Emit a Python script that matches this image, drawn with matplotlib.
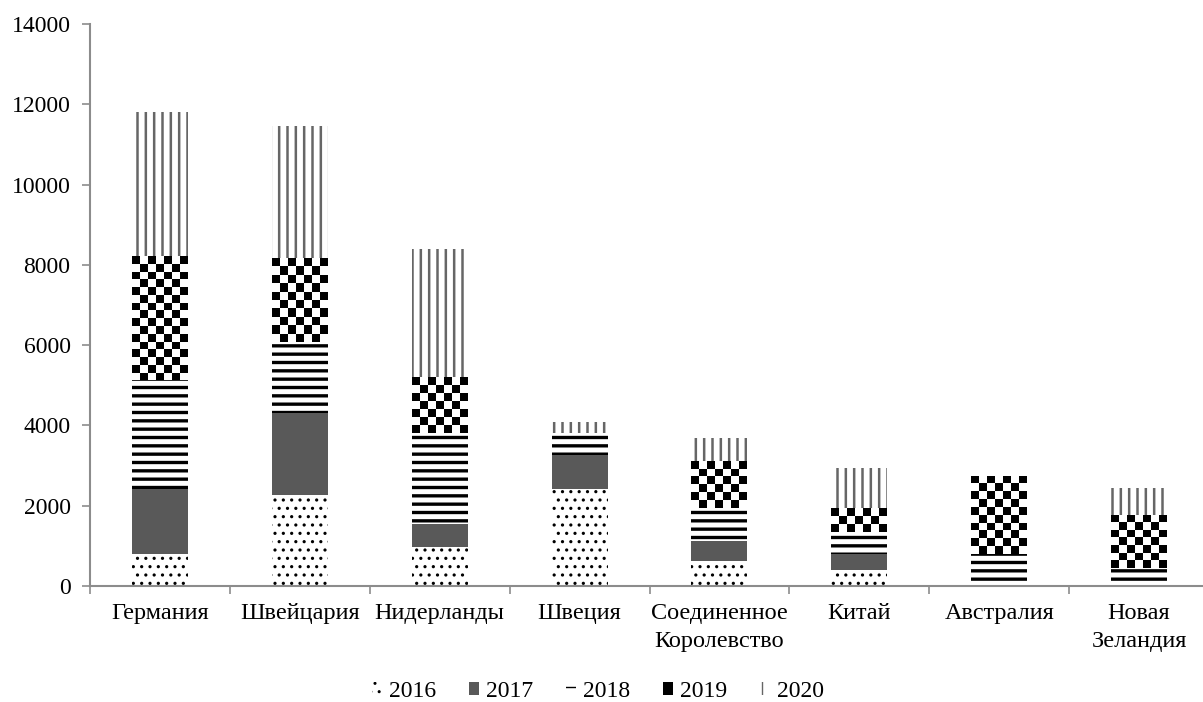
import numpy as np
import matplotlib.pyplot as plt
from matplotlib.patches import Patch

plt.rcParams['font.family'] = ['Liberation Serif', 'DejaVu Serif']

countries = ['Германия', 'Швейцария', 'Нидерланды', 'Швеция',
             'Соединенное\nКоролевство', 'Китай', 'Австралия', 'Новая\nЗеландия']
years = ['2016', '2017', '2018', '2019', '2020']

v2016 = [800, 2270, 980, 2420, 620, 400, 0, 0]
v2017 = [1620, 2030, 570, 850, 500, 400, 0, 0]
v2018 = [2700, 1780, 2250, 540, 830, 550, 800, 450]
v2019 = [3100, 2090, 1400, 0, 1170, 590, 1950, 1330]
v2020 = [3600, 3280, 3200, 280, 560, 990, 0, 670]

series = [v2016, v2017, v2018, v2019, v2020]
# face, hatch colour, hatch, hatch linewidth
styles = [('white', 'black', '..', 1.1),
          ('#595959', '#595959', None, 1.0),
          ('white', 'black', '--', 2.4),
          ('white', 'black', None, 1.0),
          ('white', '#666666', '||', 1.8)]

fig = plt.figure(figsize=(12.03, 7.02), dpi=100)
ax = fig.add_axes([90 / 1203, 116 / 702, 1119 / 1203, 562 / 702])

x = np.arange(len(countries))
w = 0.4
bottom = np.zeros(len(countries))
for vals, (fc, hc, h, hlw) in zip(series, styles):
    with plt.rc_context({'hatch.linewidth': hlw}):
        bars = ax.bar(x, vals, w, bottom=bottom, color=fc, edgecolor=hc,
                      hatch=h, linewidth=0, zorder=2)
    if vals is v2019:
        # checkerboard fill, clipped to each bar
        for i, b in enumerate(bars):
            if vals[i] <= 0:
                continue
            rows = max(1, int(round(vals[i] / 200)))
            cols = 7
            board = (np.add.outer(np.arange(rows), np.arange(cols)) % 2).astype(float)
            xe = np.linspace(x[i] - w / 2, x[i] + w / 2, cols + 1)
            ye = np.linspace(bottom[i] + vals[i], bottom[i], rows + 1)
            m = ax.pcolormesh(xe, ye, board, cmap='gray', vmin=0, vmax=1,
                              antialiased=False, zorder=2.5)
            m.set_clip_path(b)
    bottom += np.array(vals)

ax.set_xlim(-0.5, len(countries) - 0.5)
ax.set_ylim(0, 14000)
ax.set_yticks(range(0, 14001, 2000))
ax.set_xticks(x)
ax.set_xticklabels(countries, fontsize=17.5, linespacing=1.45)
ax.set_xticks(np.arange(len(countries) + 1) - 0.5, minor=True)
ax.tick_params(axis='x', which='major', length=0, pad=12)
ax.tick_params(axis='x', which='minor', length=6, color='#8c8c8c', width=1.2)
ax.tick_params(axis='y', length=6, color='#8c8c8c', width=1.2, pad=8, labelsize=17)

for s in ['top', 'right']:
    ax.spines[s].set_visible(False)
for s in ['left', 'bottom']:
    ax.spines[s].set_color('#8c8c8c')
    ax.spines[s].set_linewidth(1.5)

handles = []
for fc, hc, h, hlw in styles:
    with plt.rc_context({'hatch.linewidth': hlw}):
        handles.append(Patch(facecolor=fc if (fc != 'white' or h) else 'black',
                             edgecolor=hc, hatch=h, linewidth=0))
fig.legend(handles, years, loc='center', bbox_to_anchor=(0.497, 0.015),
           ncol=5, frameon=False, fontsize=17, handlelength=0.42,
           handleheight=0.42, handletextpad=0.3, columnspacing=1.4,
           borderpad=0)

fig.savefig('out.png', dpi=100)
